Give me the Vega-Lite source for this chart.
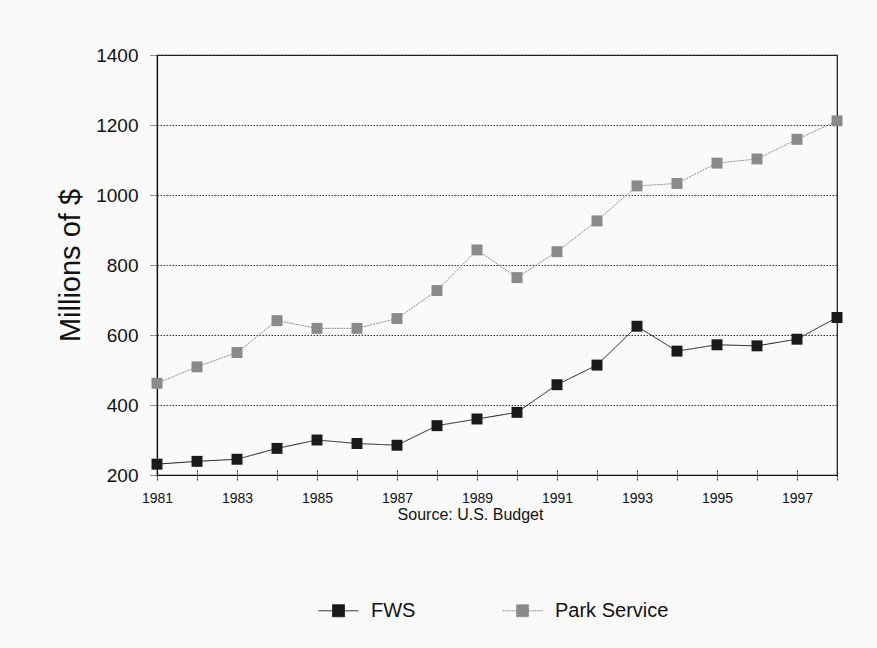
{
  "$schema": "https://vega.github.io/schema/vega-lite/v6.json",
  "width": 680,
  "height": 420,
  "autosize": {"type": "none"},
  "padding": {"left": 157, "top": 55, "right": 40, "bottom": 173},
  "background": "#fafafa",
  "config": {
    "font": "Liberation Sans",
    "view": {"stroke": "#111111", "strokeWidth": 1.2},
    "axis": {"labelColor": "#111111", "titleColor": "#111111", "titleFontWeight": "normal"},
    "legend": {
      "orient": "none",
      "legendX": 161,
      "legendY": 535,
      "direction": "horizontal",
      "symbolType": "M-1,0H-0.3M0.3,0H1M-0.3,-0.3H0.3V0.3H-0.3Z",
      "symbolSize": 1600,
      "symbolStrokeWidth": 1,
      "labelFontSize": 20,
      "labelColor": "#111111",
      "labelOffset": 12,
      "columnPadding": 84
    }
  },
  "data": {
    "values": [
      {"year": 1981, "series": "FWS", "value": 231},
      {"year": 1982, "series": "FWS", "value": 239},
      {"year": 1983, "series": "FWS", "value": 245},
      {"year": 1984, "series": "FWS", "value": 276},
      {"year": 1985, "series": "FWS", "value": 300},
      {"year": 1986, "series": "FWS", "value": 290},
      {"year": 1987, "series": "FWS", "value": 285},
      {"year": 1988, "series": "FWS", "value": 341},
      {"year": 1989, "series": "FWS", "value": 360},
      {"year": 1990, "series": "FWS", "value": 379},
      {"year": 1991, "series": "FWS", "value": 458},
      {"year": 1992, "series": "FWS", "value": 514},
      {"year": 1993, "series": "FWS", "value": 625},
      {"year": 1994, "series": "FWS", "value": 554},
      {"year": 1995, "series": "FWS", "value": 572},
      {"year": 1996, "series": "FWS", "value": 569},
      {"year": 1997, "series": "FWS", "value": 588},
      {"year": 1998, "series": "FWS", "value": 650},
      {"year": 1981, "series": "Park Service", "value": 462},
      {"year": 1982, "series": "Park Service", "value": 509},
      {"year": 1983, "series": "Park Service", "value": 550},
      {"year": 1984, "series": "Park Service", "value": 641},
      {"year": 1985, "series": "Park Service", "value": 619},
      {"year": 1986, "series": "Park Service", "value": 619},
      {"year": 1987, "series": "Park Service", "value": 647},
      {"year": 1988, "series": "Park Service", "value": 727},
      {"year": 1989, "series": "Park Service", "value": 843},
      {"year": 1990, "series": "Park Service", "value": 764},
      {"year": 1991, "series": "Park Service", "value": 838},
      {"year": 1992, "series": "Park Service", "value": 926},
      {"year": 1993, "series": "Park Service", "value": 1026},
      {"year": 1994, "series": "Park Service", "value": 1033},
      {"year": 1995, "series": "Park Service", "value": 1091},
      {"year": 1996, "series": "Park Service", "value": 1103},
      {"year": 1997, "series": "Park Service", "value": 1159},
      {"year": 1998, "series": "Park Service", "value": 1212}
    ]
  },
  "layer": [
    {
      "mark": {"type": "line", "strokeWidth": 1, "clip": false},
      "encoding": {
        "x": {
          "field": "year",
          "type": "quantitative",
          "scale": {"domain": [1981, 1998], "nice": false, "zero": false},
          "axis": {
            "values": [1981, 1982, 1983, 1984, 1985, 1986, 1987, 1988, 1989, 1990, 1991, 1992, 1993, 1994, 1995, 1996, 1997, 1998],
            "format": "d",
            "labelExpr": "datum.value % 2 == 1 ? datum.label : ''",
            "labelFlush": false,
            "grid": false,
            "domainColor": "#111111",
            "domainWidth": 1.2,
            "tickColor": "#222222",
            "tickDash": [2, 1],
            "tickSize": 5,
            "labelFontSize": 14,
            "labelPadding": 11,
            "title": "Source: U.S. Budget",
            "titleFontSize": 16,
            "titlePadding": 1,
            "titleX": 313,
            "titleAnchor": "middle"
          }
        },
        "y": {
          "field": "value",
          "type": "quantitative",
          "scale": {"domain": [200, 1400], "nice": false, "zero": false},
          "axis": {
            "values": [200, 400, 600, 800, 1000, 1200, 1400],
            "format": "d",
            "grid": true,
            "gridColor": "#333333",
            "gridDash": [1.5, 1.5],
            "gridWidth": 1,
            "domainColor": "#111111",
            "domainWidth": 1.2,
            "tickColor": "#222222",
            "tickDash": [1, 1],
            "tickSize": 7,
            "labelFontSize": 19,
            "labelPadding": 12,
            "title": "Millions of $",
            "titleFontSize": 29,
            "titlePadding": 10
          }
        },
        "color": {
          "field": "series",
          "type": "nominal",
          "scale": {"domain": ["FWS", "Park Service"], "range": ["#1a1a1a", "#8a8a8a"]},
          "legend": {
            "title": null,
            "encode": {
              "symbols": {
                "update": {
                  "stroke": {"scale": "color", "field": "value"},
                  "fill": {"scale": "color", "field": "value"},
                  "strokeDash": {"signal": "datum.value == 'Park Service' ? [2, 1] : [1, 0]"}
                }
              }
            }
          }
        },
        "strokeDash": {
          "field": "series",
          "type": "nominal",
          "scale": {"domain": ["FWS", "Park Service"], "range": [[1, 0], [2, 1]]},
          "legend": null
        }
      }
    },
    {
      "mark": {"type": "point", "shape": "square", "filled": true, "size": 120, "opacity": 1, "clip": false},
      "encoding": {
        "x": {
          "field": "year",
          "type": "quantitative",
          "axis": {
            "orient": "bottom",
            "values": [1981, 1982, 1983, 1984, 1985, 1986, 1987, 1988, 1989, 1990, 1991, 1992, 1993, 1994, 1995, 1996, 1997, 1998],
            "labels": false,
            "domain": false,
            "grid": false,
            "tickColor": "#222222",
            "tickDash": [2, 1],
            "tickSize": -5,
            "title": null
          }
        },
        "y": {"field": "value", "type": "quantitative"},
        "color": {
          "field": "series",
          "type": "nominal",
          "legend": {
            "title": null,
            "encode": {
              "symbols": {
                "update": {
                  "stroke": {"scale": "color", "field": "value"},
                  "fill": {"scale": "color", "field": "value"},
                  "strokeDash": {"signal": "datum.value == 'Park Service' ? [2, 1] : [1, 0]"}
                }
              }
            }
          }
        }
      }
    }
  ],
  "resolve": {"axis": {"x": "independent"}}
}
